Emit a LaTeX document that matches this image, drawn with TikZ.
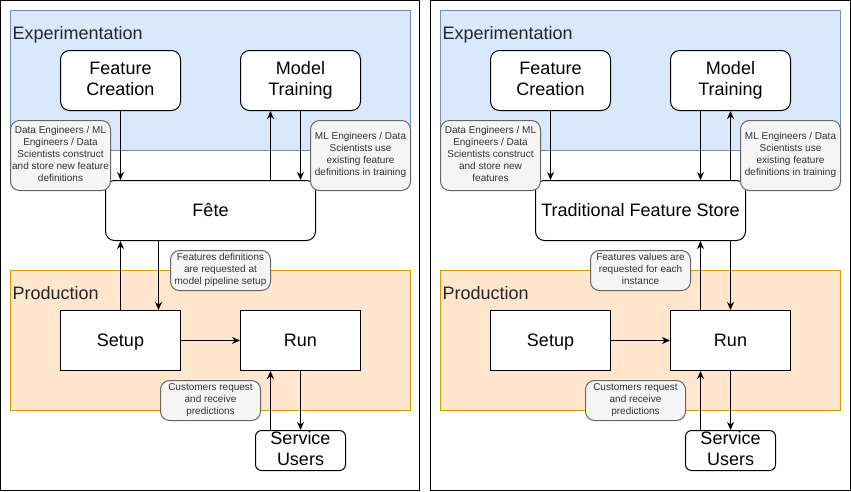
\documentclass[tikz,border=0pt]{standalone}
\usepackage{fontspec}
\setmainfont{Liberation Sans}
\usetikzlibrary{arrows.meta}
\definecolor{expfill}{HTML}{DAE8FC}
\definecolor{expline}{HTML}{6C8EBF}
\definecolor{prodfill}{HTML}{FFE6CC}
\definecolor{prodline}{HTML}{D79B00}
\definecolor{notefill}{HTML}{F5F5F5}
\definecolor{noteline}{HTML}{666666}
\definecolor{notetext}{HTML}{333333}
\newcommand{\bigstrutx}{\rule[-4pt]{0pt}{20.9pt}}
\newcommand{\smallstrutx}{\rule[-3pt]{0pt}{13.2pt}}
\begin{document}
\begin{tikzpicture}[x=1pt,y=-1pt,
 box/.style={draw=black, line width=1pt, fill=white, inner sep=0pt, align=center, font=\fontsize{18}{21}\selectfont, minimum width=120pt, minimum height=60pt, execute at begin node={\bigstrutx}, execute at end node={\bigstrutx}},
 rbox/.style={box, rounded corners=9pt},
 widebox/.style={rbox, minimum width=210pt},
 userbox/.style={box, rounded corners=6pt, minimum width=90pt, minimum height=40pt},
 note/.style={draw=noteline, fill=notefill, line width=1pt, rounded corners=9pt, inner sep=0pt, align=center, text=notetext, font=\fontsize{10}{12}\selectfont, minimum width=100pt, execute at begin node={\smallstrutx}, execute at end node={\smallstrutx}},
 bignote/.style={note, minimum height=70pt},
 smallnote/.style={note, minimum height=40pt},
 lbl/.style={anchor=base west, inner sep=0pt, font=\fontsize{18}{21}\selectfont, text=black!85},
 arr/.style={-{Stealth[length=8pt,width=7pt,inset=2.5pt]}, line width=1pt},
 panel/.style={draw=black, line width=1pt},
 expreg/.style={draw=expline, fill=expfill, line width=1pt},
 prodreg/.style={draw=prodline, fill=prodfill, line width=1pt}
]
\useasboundingbox (0,0) rectangle (851,491);
\fill[white] (0,0) rectangle (851,491);

% ===== Left panel =====
\draw[panel] (0.5,0.5) rectangle (419.5,490.5);
\draw[expreg] (10.5,10.5) rectangle (410.5,150.5);
\draw[prodreg] (10.5,270.5) rectangle (410.5,410.5);
\node[lbl] (lexp) at (12.5,39.5) {Experimentation};
\node[lbl] (lprod) at (12.5,299.5) {Production};

\node[rbox] (lfc) at (120.5,80.5) {Feature\\Creation};
\node[rbox] (lmt) at (300.5,80.5) {Model\\Training};
\node[widebox] (lfete) at (210.5,210.5) {Fête};
\node[box] (lsetup) at (120.5,340.5) {Setup};
\node[box] (lrun) at (300.5,340.5) {Run};
\node[userbox] (lsu) at (300.5,450.5) {Service\\Users};

\coordinate (lcA) at (270.5,0);
\coordinate (lcB) at (158.5,0);

\draw[arr] (lfc.south) -- (lfc.south |- lfete.north);
\draw[arr] (lfete.north -| lcA) -- (lmt.south -| lcA);
\draw[arr] (lmt.south) -- (lmt.south |- lfete.north);
\draw[arr] (lsetup.north) -- (lsetup.north |- lfete.south);
\draw[arr] (lfete.south -| lcB) -- (lsetup.north -| lcB);
\draw[arr] (lsetup.east) -- (lrun.west);
\draw[arr] (lsu.north -| lcA) -- (lrun.south -| lcA);
\draw[arr] (lrun.south) -- (lrun.south |- lsu.north);

\node[bignote] (ln1) at (60.5,155.5) {Data Engineers / ML\\Engineers / Data\\Scientists construct\\and store new feature\\definitions};
\node[bignote] (ln2) at (360.5,155.5) {ML Engineers / Data\\Scientists use\\existing feature\\definitions in training};
\node[smallnote] (ln3) at (220.5,270.5) {Features definitions\\are requested at\\model pipeline setup};
\node[smallnote] (ln4) at (210.5,400.5) {Customers request\\and receive\\predictions};

% ===== Right panel =====
\draw[panel] (430.5,0.5) rectangle (850.5,490.5);
\draw[expreg] (440.5,10.5) rectangle (840.5,150.5);
\draw[prodreg] (440.5,270.5) rectangle (840.5,410.5);
\node[lbl] (rexp) at (442.5,39.5) {Experimentation};
\node[lbl] (rprod) at (442.5,299.5) {Production};

\node[rbox] (rfc) at (550.5,80.5) {Feature\\Creation};
\node[rbox] (rmt) at (730.5,80.5) {Model\\Training};
\node[widebox] (rtfs) at (640.5,210.5) {Traditional Feature Store};
\node[box] (rsetup) at (550.5,340.5) {Setup};
\node[box] (rrun) at (730.5,340.5) {Run};
\node[userbox] (rsu) at (730.5,450.5) {Service\\Users};

\coordinate (rcA) at (700.5,0);

\draw[arr] (rfc.south) -- (rfc.south |- rtfs.north);
\draw[arr] (rmt.south -| rcA) -- (rtfs.north -| rcA);
\draw[arr] (rtfs.north -| rmt.south) -- (rmt.south);
\draw[arr] (rrun.north -| rcA) -- (rtfs.south -| rcA);
\draw[arr] (rtfs.south -| rrun.north) -- (rrun.north);
\draw[arr] (rsetup.east) -- (rrun.west);
\draw[arr] (rsu.north -| rcA) -- (rrun.south -| rcA);
\draw[arr] (rrun.south) -- (rrun.south |- rsu.north);

\node[bignote] (rn1) at (490.5,155.5) {Data Engineers / ML\\Engineers / Data\\Scientists construct\\and store new\\features};
\node[bignote] (rn2) at (790.5,155.5) {ML Engineers / Data\\Scientists use\\existing feature\\definitions in training};
\node[smallnote] (rn3) at (640.5,270.5) {Features values are\\requested for each\\instance};
\node[smallnote] (rn4) at (635.5,400.5) {Customers request\\and receive\\predictions};
\end{tikzpicture}
\end{document}
